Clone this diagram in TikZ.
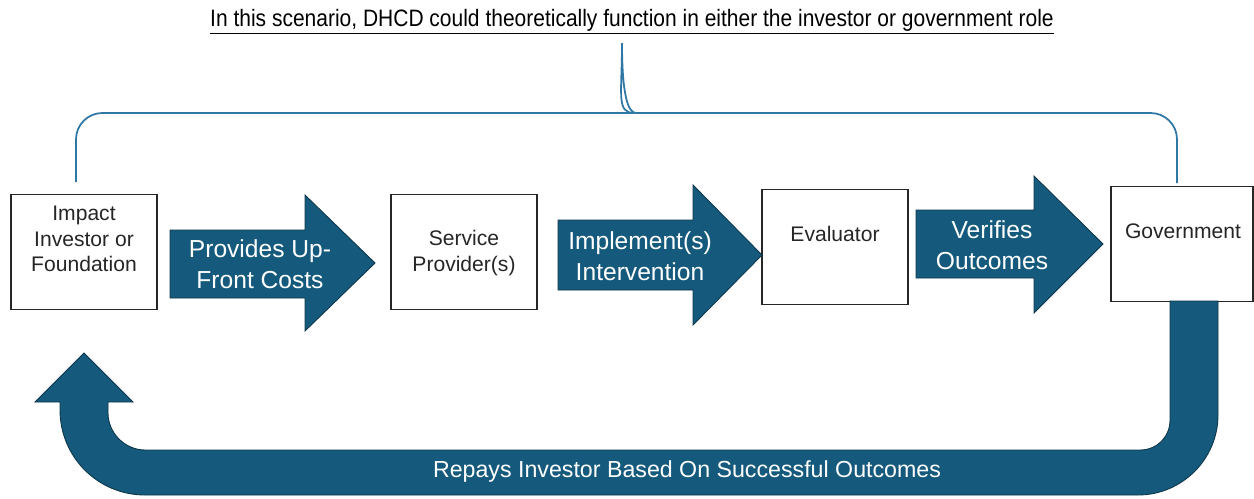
\documentclass[tikz,border=0pt]{standalone}
\usepackage{fontspec}
\setmainfont{Liberation Sans}
\newfontfamily\narrowfont[FakeStretch=0.885]{Liberation Sans}

\definecolor{flowblue}{HTML}{155A7C}
\definecolor{braceblue}{HTML}{2F78A6}

\tikzset{
    box/.style={draw=black!85, line width=0.8pt, fill=white, minimum width=2.92cm, minimum height=2.3cm, inner sep=0pt},
    boxtext/.style={align=center, font=\fontsize{12}{14.5}\selectfont, text=black!85},
    bigarrow/.style={fill=flowblue, draw=flowblue!60!black, line width=0.5pt},
    arrowtext/.style={align=center, font=\fontsize{14}{17.5}\selectfont, text=white},
}

\begin{document}
\begin{tikzpicture}[x=0.02cm, y=-0.02cm]
\useasboundingbox (0,0) rectangle (1254,498);

% ===== Tiêu đề =====
\node (title) at (632,22) {\narrowfont\fontsize{13.5}{16}\selectfont\underline{In this scenario, DHCD could theoretically function in either the investor or government role}};

% ===== Ngoặc nhọn =====
\draw[braceblue, line width=1pt, rounded corners=15] (76,182) -- (76,113) -- (608,113)
    [sharp corners] .. controls (616,113) and (622,95) .. (622,43)
    .. controls (622,95) and (628,113) .. (636,113)
    [rounded corners=15] -- (1177,113) -- (1177,183);

% ===== Các ô =====
\node[box] (inv) at (84,252) {};
\node[box] (prov) at (464,252) {};
\node[box] (eval) at (835,247) {};
\node[box, minimum width=2.84cm] (gov) at (1182,244) {};

\node[boxtext] (inv-txt) at (84,239) {Impact\\Investor or\\Foundation};
\node[boxtext] (prov-txt) at (464,253) {Service\\Provider(s)};
\node[boxtext] (eval-txt) at (835,234) {Evaluator};
\node[boxtext] (gov-txt) at (1183,231) {Government};

% ===== Mũi tên ngang =====
\fill[bigarrow] (170,230) -- (305,230) -- (305,195) -- (375,263) -- (305,331) -- (305,298) -- (170,298) -- cycle;
\fill[bigarrow] (558,220) -- (693,220) -- (693,185) -- (762,255) -- (693,325) -- (693,290) -- (558,290) -- cycle;
\fill[bigarrow] (916,210) -- (1034,210) -- (1034,176) -- (1103,244) -- (1034,313) -- (1034,278) -- (916,278) -- cycle;

\node[arrowtext] (fund) at (260,264) {Provides Up-\\Front Costs};
\node[arrowtext] (impl) at (640,256) {Implement(s)\\Intervention};
\node[arrowtext] (verify) at (992,245) {Verifies\\Outcomes};

% ===== Mũi tên quay về =====
\fill[bigarrow] (1170,301) -- (1218,301) -- (1218,415)
    .. controls (1218,459) and (1182,495) .. (1138,495) -- (145,495)
    .. controls (98,495) and (60,457) .. (60,410) -- (60,402) -- (35,402) -- (84,353)
    -- (133,402) -- (108,402) -- (108,413)
    .. controls (108,433) and (125,450) .. (145,450) -- (1140,450)
    .. controls (1157,450) and (1170,437) .. (1170,420) -- cycle;

\node[arrowtext, font=\fontsize{13.2}{16}\selectfont] (repay) at (687,471) {Repays Investor Based On Successful Outcomes};

\end{tikzpicture}
\end{document}
